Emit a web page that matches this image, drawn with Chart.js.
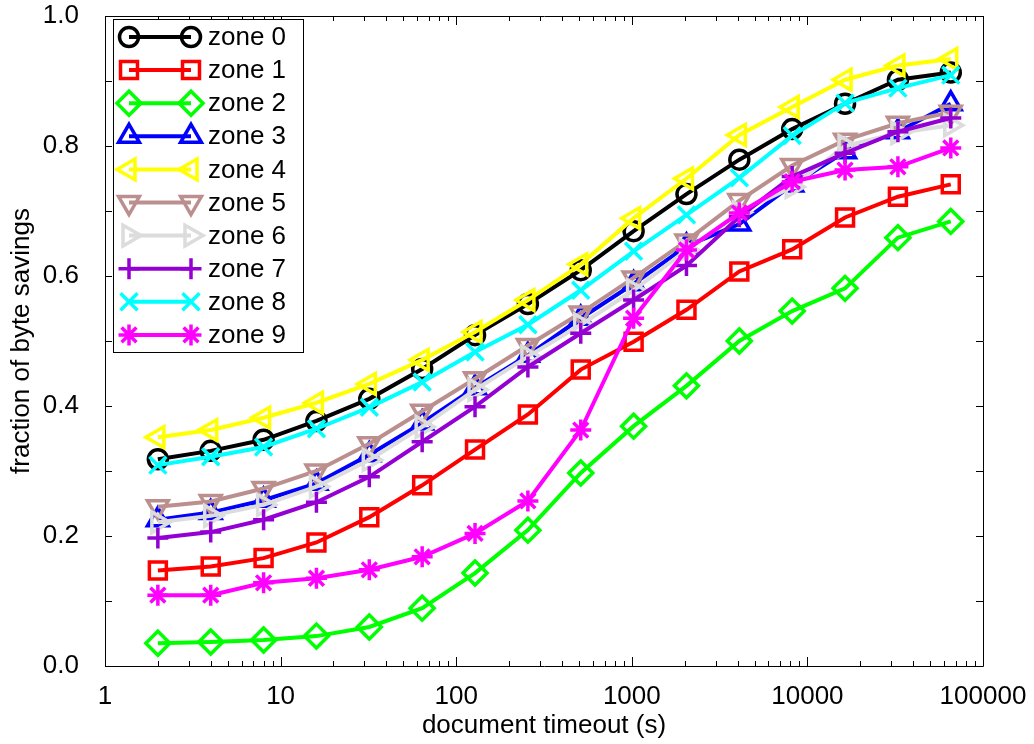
<!DOCTYPE html>
<html><head><meta charset="utf-8">
<script src="https://cdn.jsdelivr.net/npm/chart.js@4/dist/chart.umd.min.js"></script>
<style>html,body{margin:0;padding:0;background:#fff;}#wrap{width:1034px;height:744px;}</style>
</head><body><div id="wrap"><canvas id="c" width="1034" height="744"></canvas></div>
<script>
// ---------- data ----------
const timeouts = [2,4,8,16,32,64,128,256,512,1024,2048,4096,8192,16384,32768,65536];
const zoneNames = ['zone 0','zone 1','zone 2','zone 3','zone 4','zone 5','zone 6','zone 7','zone 8','zone 9'];
const zone0 = [0.318,0.331,0.348,0.377,0.411,0.457,0.509,0.557,0.609,0.669,0.726,0.779,0.826,0.865,0.902,0.913];
const zone1 = [0.147,0.153,0.166,0.190,0.229,0.278,0.333,0.387,0.456,0.499,0.548,0.607,0.641,0.690,0.722,0.741];
const zone2 = [0.035,0.037,0.040,0.046,0.060,0.089,0.143,0.209,0.297,0.369,0.431,0.500,0.546,0.581,0.659,0.684];
const zone3 = [0.225,0.236,0.255,0.281,0.325,0.374,0.428,0.478,0.535,0.588,0.646,0.680,0.740,0.791,0.822,0.865];
const zone4 = [0.352,0.363,0.382,0.405,0.434,0.471,0.514,0.563,0.618,0.689,0.750,0.817,0.860,0.902,0.924,0.934];
const zone5 = [0.245,0.253,0.273,0.300,0.342,0.392,0.442,0.493,0.543,0.597,0.654,0.716,0.770,0.809,0.835,0.852];
const zone6 = [0.221,0.231,0.248,0.276,0.317,0.368,0.425,0.476,0.525,0.578,0.640,0.698,0.737,0.800,0.820,0.832];
const zone7 = [0.197,0.206,0.225,0.252,0.291,0.345,0.399,0.460,0.512,0.563,0.616,0.691,0.753,0.789,0.822,0.843];
const zone8 = [0.309,0.322,0.337,0.365,0.398,0.437,0.483,0.525,0.578,0.638,0.694,0.751,0.816,0.866,0.889,0.909];
const zone9 = [0.109,0.109,0.128,0.135,0.148,0.168,0.204,0.254,0.363,0.535,0.640,0.697,0.745,0.763,0.768,0.797];
const zoneValues = [zone0,zone1,zone2,zone3,zone4,zone5,zone6,zone7,zone8,zone9];
const xTickValues = [1,10,100,1000,10000,100000];
const yTickValues = [0,0.2,0.4,0.6,0.8,1.0];
const xAxisTitle = 'document timeout (s)';
const yAxisTitle = 'fraction of byte savings';

// ---------- styles ----------
const colors = ['#000000','#ff0000','#00ff00','#0000ff','#ffff00','#bc8f8f','#dcdcdc','#9400d3','#00ffff','#ff00ff'];
const pStyles = ['circle','rect','rectRot','triangle','triangle','triangle','triangle','cross','crossRot','star'];
const pRot = [0,0,0,0,-90,180,90,0,0,0];
const pRad = [9.5,12,12,12,12,12,12,10.5,12,10.5];
const FONT = {family:"'Liberation Sans', Arial, Helvetica, sans-serif", size:26};

const datasets = zoneValues.map((vals,i)=>({
  label: zoneNames[i],
  data: timeouts.map((t,j)=>({x:t,y:vals[j]})),
  borderColor: colors[i],
  backgroundColor: 'rgba(0,0,0,0)',
  borderWidth: 4,
  pointStyle: pStyles[i],
  pointRotation: pRot[i],
  pointRadius: pRad[i],
  pointBorderWidth: 3.5,
  pointBorderColor: colors[i],
  pointBackgroundColor: 'rgba(0,0,0,0)',
  tension: 0,
  fill: false,
  order: 9 - i
}));

const framePlugin = {
  id: 'frame',
  beforeDatasetsDraw(chart){
    const {ctx, chartArea:a, scales} = chart;
    const xs = scales.x, ys = scales.y;
    ctx.save();
    ctx.strokeStyle = '#000';
    ctx.lineWidth = 1;
    ctx.beginPath();
    ctx.rect(Math.round(a.left)+0.5, Math.round(a.top)+0.5, Math.round(a.right-a.left), Math.round(a.bottom-a.top));
    ctx.stroke();
    ctx.beginPath();
    for (let d=0; d<=5; d++){
      for (let k=1; k<=9; k++){
        const v = k*Math.pow(10,d);
        if (v>100000) break;
        const px = Math.round(xs.getPixelForValue(v))+0.5;
        const len = k===1 ? 9 : 5;
        ctx.moveTo(px, a.bottom); ctx.lineTo(px, a.bottom-len);
        ctx.moveTo(px, a.top); ctx.lineTo(px, a.top+len);
      }
    }
    for (let i=0;i<=10;i++){
      const py = Math.round(ys.getPixelForValue(i/10))+0.5;
      const len = 7;
      ctx.moveTo(a.left, py); ctx.lineTo(a.left+len, py);
      ctx.moveTo(a.right, py); ctx.lineTo(a.right-len, py);
    }
    ctx.stroke();
    ctx.restore();
  },
  afterDatasetsDraw(chart){
    const ctx = chart.ctx;
    ctx.save();
    ctx.fillStyle = '#fff';
    ctx.fillRect(113,19,190,333);
    ctx.strokeStyle = '#000'; ctx.lineWidth = 1;
    ctx.strokeRect(113.5,19.5,190,333);
    const x1 = 129, x2 = 191, tx = 208;
    chart.data.datasets.forEach((ds,i)=>{
      const y = 37 + i*33.1;
      ctx.strokeStyle = ds.borderColor; ctx.lineWidth = 4;
      ctx.beginPath(); ctx.moveTo(x1,y); ctx.lineTo(x2,y); ctx.stroke();
      ctx.lineWidth = 3.5;
      ctx.fillStyle = 'rgba(0,0,0,0)';
      const opts = {pointStyle: ds.pointStyle, rotation: ds.pointRotation, radius: ds.pointRadius, borderWidth: 3.5};
      Chart.helpers.drawPoint(ctx, opts, x1, y);
      ctx.fillStyle = 'rgba(0,0,0,0)';
      Chart.helpers.drawPoint(ctx, opts, x2, y);
      ctx.fillStyle = '#000';
      ctx.font = FONT.size + 'px ' + FONT.family;
      ctx.textBaseline = 'middle'; ctx.textAlign = 'left';
      ctx.fillText(ds.label, tx, y+1);
    });
    ctx.restore();
  }
};

new Chart(document.getElementById('c'), {
  type: 'line',
  data: { datasets },
  options: {
    responsive: false, animation: false, devicePixelRatio: 1,
    layout: { padding: { top: 16, right: 51, left: 0, bottom: 0 } },
    plugins: { legend: { display: false }, tooltip: { enabled: false } },
    scales: {
      x: {
        type: 'logarithmic', min: 1, max: 100000,
        grid: { display: false }, border: { display: false },
        afterBuildTicks(s){ s.ticks = xTickValues.map(v=>({value:v})); },
        afterFit(s){ s.height = 78; s.paddingLeft = 0; s.paddingRight = 0; },
        ticks: { color: '#000', font: FONT, padding: 7, maxRotation: 0, autoSkip: false,
          callback: (v)=> String(v) },
        title: { display: true, text: xAxisTitle, color: '#000', font: FONT, padding: { top: 0, bottom: 3 } }
      },
      y: {
        min: 0, max: 1,
        grid: { display: false }, border: { display: false },
        afterBuildTicks(s){ s.ticks = yTickValues.map(v=>({value:v})); },
        afterFit(s){ s.width = 105; s.paddingTop = 0; s.paddingBottom = 0; },
        ticks: { color: '#000', font: FONT, padding: 18, callback: (v)=> Number(v).toFixed(1) },
        title: { display: true, text: yAxisTitle, color: '#000', font: FONT, padding: { top: 6, bottom: 0 } }
      }
    }
  },
  plugins: [framePlugin]
});
</script></body></html>
